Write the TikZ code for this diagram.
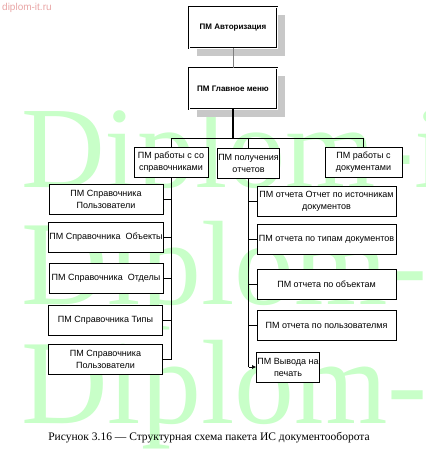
\documentclass[tikz,border=0pt]{standalone}
\usepackage{fontspec}
\setmainfont{Liberation Serif}
\newfontfamily\boxfont{Liberation Sans}
\definecolor{wmgreen}{RGB}{200,255,200}
\definecolor{sitered}{RGB}{232,165,165}
\definecolor{shadowgray}{RGB}{200,200,200}
\usetikzlibrary{arrows.meta,shadows}

\begin{document}
\begin{tikzpicture}[x=1pt,y=-1pt,
  pmbox/.style={draw, line width=0.6pt, fill=white, align=center, inner sep=1pt,
    minimum height=30pt, font=\boxfont\fontsize{9}{12}\selectfont},
  topbox/.style={draw, line width=0.8pt, double=white, double distance=0.7pt, fill=white,
    minimum width=88pt, minimum height=41pt, font=\boxfont\bfseries\fontsize{8}{10}\selectfont,
    drop shadow={shadow xshift=8pt, shadow yshift=-8pt, fill=shadowgray, opacity=1}},
  link/.style={line width=0.6pt}]
  \useasboundingbox (0,0) rectangle (425,454);

  % Watermark
  \begin{scope}
    \clip (0,0) rectangle (425,454);
    \node[anchor=base west, inner sep=0, text=wmgreen, font=\fontsize{116}{116}\selectfont] (wm1) at (21,188) {Diplom-it.ru};
    \node[anchor=base west, inner sep=0, text=wmgreen, font=\fontsize{120}{120}\selectfont] (wm2) at (21,304) {Diplom-it.ru};
    \node[anchor=base west, inner sep=0, text=wmgreen, font=\fontsize{120}{120}\selectfont] (wm3) at (21,423) {Diplom-it.ru};
  \end{scope}
  \node[anchor=west, inner sep=0, text=sitered, font=\boxfont\fontsize{10}{12}\selectfont] (site) at (2,8) {diplom-it.ru};

  % Top level
  \node[topbox] (auth) at (233,27.5) {ПМ Авторизация};
  \node[topbox] (main) at (233,88.5) {ПМ Главное меню};

  % Second level
  \node[pmbox, minimum width=74pt] (sprav) at (171,162) {ПМ работы с со\\справочниками};
  \node[pmbox, minimum width=61pt] (otch) at (248.5,163) {ПМ получения\\отчетов};
  \node[pmbox, minimum width=77pt] (docs) at (363.5,162) {ПМ работы с\\документами};

  % Reference books (left column)
  \node[pmbox, minimum width=114pt] (s1) at (106,199.5) {ПМ Справочника\\Пользователи};
  \node[pmbox, minimum width=114pt] (s2) at (106,237.5) {ПМ Справочника\ \ Объекты};
  \node[pmbox, minimum width=114pt] (s3) at (106,278) {ПМ Справочника\ \ Отделы};
  \node[pmbox, minimum width=114pt] (s4) at (105.5,320) {ПМ Справочника Типы};
  \node[pmbox, minimum width=114pt] (s5) at (105.5,359) {ПМ Справочника\\Пользователи};

  % Reports (right column)
  \node[pmbox, minimum width=139pt] (r1) at (326.5,201) {ПМ отчета Отчет по источникам\\документов};
  \node[pmbox, minimum width=139pt] (r2) at (326.5,239) {ПМ отчета по типам документов};
  \node[pmbox, minimum width=139pt] (r3) at (326.5,284) {ПМ отчета по объектам};
  \node[pmbox, minimum width=139pt] (r4) at (326.5,325.5) {ПМ отчета по пользователмя};
  \node[pmbox, minimum width=62pt] (r5) at (288,367) {ПМ Вывода на\\печать};

  % Connectors
  \coordinate (bus) at (233,138);
  \draw[link, gray] (auth.south) -- (main.north);
  \draw[line width=1.5pt] (main.south) -- (bus);
  \draw[link] (bus) -| (sprav.north);
  \draw[link] (bus) -| (docs.north);
  \draw[link] (bus -| otch.north) -- (otch.north);

  \draw[line width=1pt] (sprav.south) |- (s5.east);
  \foreach \n in {s1,s2,s3,s4}
    \draw[link] (sprav.south |- \n.east) -- (\n.east);

  \draw[line width=1.5pt] (otch.south) -- (otch.south |- r5.west);
  \foreach \n in {r1,r2,r3,r4}
    \draw[link] (otch.south |- \n.west) -- (\n.west);
  \draw[link, -{Latex[length=4pt,width=4pt]}] (otch.south |- r5.west) -- (r5.west);

  % Caption
  \node[font=\fontsize{11.5}{13}\selectfont] (caption) at (209,438) {Рисунок 3.16 — Структурная схема пакета ИС документооборота};
\end{tikzpicture}
\end{document}
